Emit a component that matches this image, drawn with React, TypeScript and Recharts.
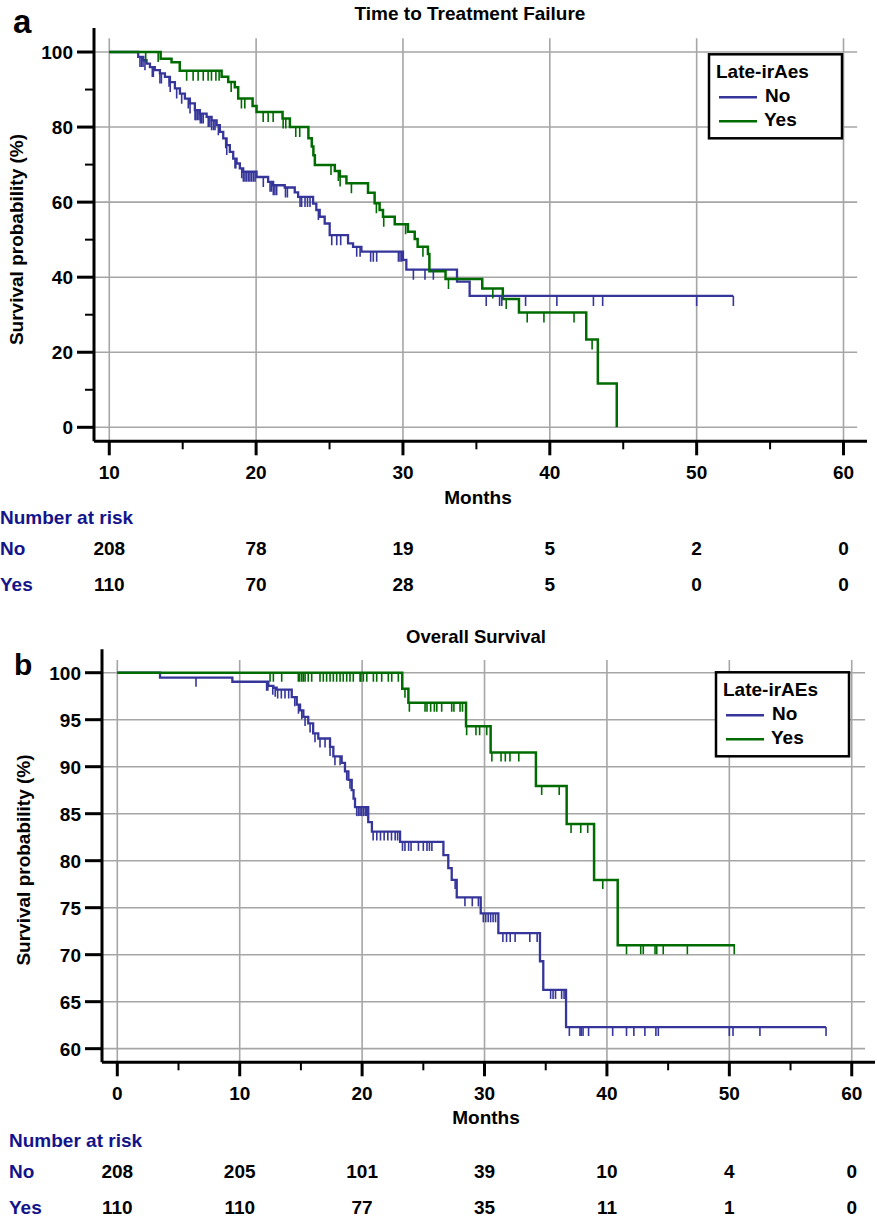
import React from "react";
import { ComposedChart, Line, Scatter, XAxis, YAxis, ReferenceLine } from "recharts";

const FONT = '"Liberation Sans", Arial, Helvetica, sans-serif';
const BLUE = "#35359a";
const GREEN = "#006b00";
const NAVY = "#14148a";
const GRID = "#a6a6a6";

// (a) Time to treatment failure — step times (months) and survival (%)
const ttfNoTime = [10, 11.97, 12.32, 12.54, 12.77, 13.1, 13.45, 13.79, 14.13, 14.47, 14.81, 15.15, 15.49, 15.83, 16.17, 16.63, 16.97, 17.31, 17.53, 17.76, 17.99, 18.21, 18.44, 18.67, 18.89, 19.12, 20.03, 20.82, 21.16, 21.95, 22.63, 22.86, 23.88, 24.1, 24.33, 24.67, 25.01, 26.26, 26.6, 27.17, 30.0, 30.23, 33.68, 34.54, 52.5];
const ttfNoSurv = [100, 98.7, 97.8, 96.9, 96.0, 95.2, 94.3, 93.4, 92.0, 90.3, 88.9, 87.6, 86.3, 84.5, 83.6, 82.7, 81.8, 80.5, 78.7, 77.0, 75.2, 73.4, 71.6, 70.3, 69.0, 68.1, 66.7, 65.4, 64.5, 63.9, 62.6, 61.4, 59.6, 57.9, 56.1, 54.3, 51.2, 49.0, 48.1, 46.8, 44.6, 42.0, 38.8, 35.0, 35.0];
const ttfNoCensor = [12.09, 12.2, 12.3, 12.43, 12.93, 13.0, 13.45, 13.55, 14.07, 14.15, 14.59, 14.93, 15.38, 15.5, 15.84, 15.9, 16.0, 16.11, 16.2, 16.3, 16.4, 16.74, 16.85, 16.97, 17.1, 17.2, 17.43, 17.93, 18.0, 18.56, 18.62, 19.02, 19.13, 19.24, 19.35, 19.47, 19.58, 19.7, 19.82, 19.93, 20.49, 20.95, 21.05, 21.17, 21.28, 21.4, 22.0, 22.13, 22.99, 23.1, 23.33, 23.5, 23.67, 24.24, 25.15, 25.49, 25.76, 26.85, 27.08, 27.8, 27.98, 28.21, 29.69, 29.8, 29.92, 30.71, 31.5, 32.07, 35.67, 36.58, 36.73, 38.35, 40.48, 42.97, 43.6, 50.0, 52.5];

const ttfYesTime = [10, 13.5, 14.24, 14.8, 17.65, 18.1, 18.55, 18.78, 19.76, 20.03, 21.8, 22.3, 23.56, 23.79, 23.9, 24.0, 25.36, 25.7, 26.15, 27.62, 28.07, 28.41, 28.64, 29.44, 30.34, 30.8, 31.0, 31.7, 31.8, 32.9, 35.4, 36.8, 37.9, 42.48, 43.27, 44.56];
const ttfYesSurv = [100, 98.2, 97.3, 95.0, 93.4, 92.0, 90.6, 87.6, 85.6, 84.0, 82.3, 80.0, 77.0, 74.8, 72.5, 69.9, 68.3, 66.8, 65.0, 62.5, 59.7, 57.9, 56.1, 54.1, 52.1, 50.2, 48.1, 46.2, 41.6, 39.5, 37.0, 34.2, 30.6, 23.4, 11.7, 0];
const ttfYesCensor = [12.48, 13.33, 15.27, 15.71, 16.05, 16.4, 16.73, 16.96, 17.26, 17.48, 18.3, 19.0, 19.23, 20.48, 20.82, 21.16, 21.84, 22.02, 22.7, 22.97, 25.1, 25.6, 25.72, 26.49, 28.19, 28.69, 30.18, 31.36, 33.1, 36.12, 37.03, 38.46, 39.6, 41.65, 42.88];

const ttfRiskMonths = [10, 20, 30, 40, 50, 60];
const ttfRiskNo = [208, 78, 19, 5, 2, 0];
const ttfRiskYes = [110, 70, 28, 5, 0, 0];

// (b) Overall survival
const osNoTime = [0, 3.49, 9.4, 12.34, 12.75, 13.02, 14.25, 14.66, 14.93, 15.2, 15.6, 16.0, 16.42, 17.38, 17.65, 18.33, 18.6, 18.88, 19.15, 19.3, 19.42, 20.5, 20.8, 23.1, 26.64, 27.04, 27.32, 27.73, 29.69, 31.13, 34.53, 34.8, 36.66, 57.9];
const osNoSurv = [100, 99.47, 99.04, 98.6, 98.4, 98.2, 97.4, 96.6, 96.0, 95.3, 94.6, 93.55, 93.0, 92.1, 91.1, 90.4, 89.5, 88.6, 87.5, 86.6, 85.7, 84.1, 83.1, 82.0, 80.6, 79.2, 77.95, 76.1, 74.4, 72.3, 69.3, 66.25, 62.3, 62.3];
const osNoCensor = [6.43, 12.2, 12.3, 12.7, 12.9, 13.1, 13.4, 13.7, 14.0, 14.5, 14.8, 15.07, 15.34, 15.75, 16.15, 16.56, 16.97, 17.38, 17.78, 18.2, 18.74, 19.01, 19.56, 19.7, 19.83, 19.95, 20.1, 20.25, 20.38, 20.9, 21.2, 21.5, 21.8, 22.1, 22.4, 22.7, 22.9, 23.3, 23.5, 23.8, 24.0, 24.6, 25.0, 25.3, 25.5, 25.7, 27.6, 28.4, 29.0, 29.5, 29.9, 30.1, 30.3, 30.5, 30.7, 30.9, 31.5, 31.8, 32.1, 32.5, 33.7, 34.3, 35.4, 35.6, 35.8, 36.3, 36.5, 36.93, 37.8, 37.9, 38.05, 38.5, 40.47, 41.6, 42.2, 43.1, 44.0, 44.2, 50.0, 50.3, 52.5, 57.9];

const osYesTime = [0, 23.28, 23.78, 28.49, 30.5, 34.2, 36.71, 38.95, 40.88, 50.47];
const osYesSurv = [100, 98.3, 96.8, 94.3, 91.5, 87.95, 83.9, 77.95, 71.0, 71.0];
const osYesCensor = [12.48, 12.75, 13.43, 14.79, 14.9, 15.07, 15.2, 15.34, 15.6, 15.88, 16.56, 16.83, 17.1, 17.38, 17.65, 17.92, 18.2, 18.46, 18.74, 19.01, 19.28, 19.83, 19.9, 20.1, 20.38, 20.92, 21.19, 21.6, 22.14, 22.42, 22.96, 23.5, 23.86, 25.14, 25.3, 25.6, 25.9, 26.1, 26.5, 27.32, 27.5, 28.0, 28.2, 28.54, 29.3, 29.6, 30.18, 30.6, 31.35, 31.7, 32.08, 32.8, 34.67, 36.1, 37.07, 37.86, 38.43, 39.66, 41.6, 42.76, 42.97, 43.93, 44.07, 44.6, 46.57, 50.4];

const osRiskMonths = [0, 10, 20, 30, 40, 50, 60];
const osRiskNo = [208, 205, 101, 39, 10, 4, 0];
const osRiskYes = [110, 110, 77, 35, 11, 1, 0];

type Pt = { t: number; s: number };

const toSteps = (times: number[], surv: number[]): Pt[] =>
  times.map((t, i) => ({ t, s: surv[i] }));

// survival value of the step curve at time t (for placing censor marks)
const survAt = (steps: Pt[], t: number) => {
  let s = steps[0].s;
  for (const p of steps) if (p.t <= t + 1e-9) s = p.s;
  return s;
};

const range = (a: number, b: number, step: number) => {
  const out: number[] = [];
  for (let v = a; v <= b + 1e-9; v += step) out.push(v);
  return out;
};

interface Cfg {
  top: number;
  height: number;
  margin: { top: number; right: number; bottom: number; left: number };
  xDomain: [number, number];
  yDomain: [number, number];
  xTicks: number[];
  yTicks: number[];
  xMajor: number;
  yMajor: number;
  vGrid: number[];
  vGridTop: number;
  hGrid: number[];
  hGridRight: number;
  censorLen: number;
  no: Pt[];
  yes: Pt[];
  noCensor: number[];
  yesCensor: number[];
}

const W = 877;
const Y_W = 60;
const X_H = 50;

function KMChart({ cfg }: { cfg: Cfg }) {
  const noMarks = cfg.noCensor.map((t) => ({ t, s: survAt(cfg.no, t) }));
  const yesMarks = cfg.yesCensor.map((t) => ({ t, s: survAt(cfg.yes, t) }));

  const xTick = (p: any) => {
    const v = p.payload.value;
    const major = Math.abs(v % cfg.xMajor) < 1e-6;
    return (
      <g>
        <line x1={p.x} y1={p.y} x2={p.x} y2={p.y + (major ? 14 : 8)} stroke="#000" strokeWidth={major ? 3 : 2} />
        {major && (
          <text x={p.x} y={p.y + 38} textAnchor="middle" fontFamily={FONT} fontWeight="bold" fontSize={19} fill="#000">
            {v}
          </text>
        )}
      </g>
    );
  };

  const yTick = (p: any) => {
    const v = p.payload.value;
    const major = Math.abs(v % cfg.yMajor) < 1e-6;
    return (
      <g>
        <line x1={p.x - (major ? 17 : 9)} y1={p.y} x2={p.x} y2={p.y} stroke="#000" strokeWidth={major ? 3 : 2} />
        {major && (
          <text x={p.x - 21} y={p.y + 7} textAnchor="end" fontFamily={FONT} fontWeight="bold" fontSize={19} fill="#000">
            {v}
          </text>
        )}
      </g>
    );
  };

  const censor = (color: string) => (p: any) =>
    <line x1={p.cx} y1={p.cy} x2={p.cx} y2={p.cy + cfg.censorLen} stroke={color} strokeWidth={1.6} />;

  return (
    <div style={{ position: "absolute", left: 0, top: cfg.top }}>
      <ComposedChart width={W} height={cfg.height} margin={cfg.margin}>
        {cfg.vGrid.map((v) => (
          <ReferenceLine
            key={"v" + v}
            segment={[{ x: v, y: cfg.yDomain[0] }, { x: v, y: cfg.vGridTop }]}
            stroke={GRID}
            strokeWidth={1.6}
          />
        ))}
        {cfg.hGrid.map((v) => (
          <ReferenceLine
            key={"h" + v}
            segment={[{ x: cfg.xDomain[0], y: v }, { x: cfg.hGridRight, y: v }]}
            stroke={GRID}
            strokeWidth={1.6}
          />
        ))}
        <XAxis
          dataKey="t"
          type="number"
          domain={cfg.xDomain}
          ticks={cfg.xTicks}
          interval={0}
          allowDataOverflow
          height={X_H}
          axisLine={{ stroke: "#000", strokeWidth: 3 }}
          tickLine={false}
          tickSize={0}
          tickMargin={0}
          tick={xTick}
        />
        <YAxis
          dataKey="s"
          type="number"
          domain={cfg.yDomain}
          ticks={cfg.yTicks}
          interval={0}
          allowDataOverflow
          width={Y_W}
          axisLine={{ stroke: "#000", strokeWidth: 3 }}
          tickLine={false}
          tickSize={0}
          tickMargin={0}
          tick={yTick}
        />
        <Line data={cfg.no} dataKey="s" type="stepAfter" stroke={BLUE} strokeWidth={2.3} dot={false} activeDot={false} isAnimationActive={false} />
        <Line data={cfg.yes} dataKey="s" type="stepAfter" stroke={GREEN} strokeWidth={2.5} dot={false} activeDot={false} isAnimationActive={false} />
        <Scatter data={noMarks} dataKey="s" shape={censor(BLUE)} isAnimationActive={false} />
        <Scatter data={yesMarks} dataKey="s" shape={censor(GREEN)} isAnimationActive={false} />
      </ComposedChart>
    </div>
  );
}

const TOP: Cfg = {
  top: 0,
  height: 520,
  margin: { top: 28, right: 10, bottom: 520 - 441.3 - X_H, left: 94 - Y_W },
  xDomain: [8.96, 61.6],
  yDomain: [-3.73, 106.4],
  xTicks: range(10, 60, 5),
  yTicks: range(0, 100, 10),
  xMajor: 10,
  yMajor: 20,
  vGrid: range(10, 60, 10),
  vGridTop: 103.7,
  hGrid: range(0, 100, 20),
  hGridRight: 60.93,
  censorLen: 10,
  no: toSteps(ttfNoTime, ttfNoSurv),
  yes: toSteps(ttfYesTime, ttfYesSurv),
  noCensor: ttfNoCensor,
  yesCensor: ttfYesCensor,
};

const BOTTOM: Cfg = {
  top: 610,
  height: 520,
  margin: { top: 39.3, right: 2, bottom: 520 - 452.3 - X_H, left: 102 - Y_W },
  xDomain: [-1.25, 61.9],
  yDomain: [58.55, 102.49],
  xTicks: range(0, 60, 5),
  yTicks: range(60, 100, 5),
  xMajor: 10,
  yMajor: 5,
  vGrid: range(0, 60, 10),
  vGridTop: 101.35,
  hGrid: range(60, 100, 5),
  hGridRight: 61.09,
  censorLen: 9,
  no: toSteps(osNoTime, osNoSurv),
  yes: toSteps(osYesTime, osYesSurv),
  noCensor: osNoCensor,
  yesCensor: osYesCensor,
};

// pixel x of a month value on a chart's x axis (for the risk table)
const xPx = (cfg: Cfg, m: number) => {
  const left = cfg.margin.left + Y_W;
  const right = W - cfg.margin.right;
  return left + ((m - cfg.xDomain[0]) / (cfg.xDomain[1] - cfg.xDomain[0])) * (right - left);
};

const bold = { fontFamily: FONT, fontWeight: "bold" as const };

function Legend({ x, y, title }: { x: number; y: number; title: string }) {
  return (
    <g>
      <rect x={x} y={y} width={133} height={84} fill="#fff" stroke="#000" strokeWidth={2.5} />
      <text x={x + 7} y={y + 24} fontSize={19} {...bold}>{title}</text>
      <line x1={x + 10} x2={x + 48} y1={y + 43} y2={y + 43} stroke={BLUE} strokeWidth={2.5} />
      <text x={x + 56} y={y + 48} fontSize={19} {...bold}>No</text>
      <line x1={x + 10} x2={x + 48} y1={y + 67} y2={y + 67} stroke={GREEN} strokeWidth={2.5} />
      <text x={x + 55} y={y + 72} fontSize={19} {...bold}>Yes</text>
    </g>
  );
}

function RiskTable({ cfg, months, no, yes, x0, y0 }: { cfg: Cfg; months: number[]; no: number[]; yes: number[]; x0: number; y0: number }) {
  return (
    <g>
      <text x={x0} y={y0} fontSize={19} fill={NAVY} {...bold}>Number at risk</text>
      <text x={x0} y={y0 + 31} fontSize={19} fill={NAVY} {...bold}>No</text>
      <text x={x0} y={y0 + 67} fontSize={19} fill={NAVY} {...bold}>Yes</text>
      {months.map((m, i) => (
        <g key={m}>
          <text x={xPx(cfg, m)} y={y0 + 31} textAnchor="middle" fontSize={19} {...bold}>{no[i]}</text>
          <text x={xPx(cfg, m)} y={y0 + 67} textAnchor="middle" fontSize={19} {...bold}>{yes[i]}</text>
        </g>
      ))}
    </g>
  );
}

export default function App() {
  return (
    <div style={{ position: "absolute", left: 0, top: 0, width: W, height: 1220, background: "#fff", overflow: "hidden" }}>
      <KMChart cfg={TOP} />
      <KMChart cfg={BOTTOM} />
      <svg width={W} height={1220} style={{ position: "absolute", left: 0, top: 0, pointerEvents: "none" }}>
        {/* panel a */}
        <text x={13} y={33} fontSize={33} {...bold}>a</text>
        <text x={470} y={19.5} textAnchor="middle" fontSize={19} {...bold}>Time to Treatment Failure</text>
        <text transform="translate(23,239.5) rotate(-90)" textAnchor="middle" fontSize={19} {...bold}>Survival probability (%)</text>
        <text x={478} y={504} textAnchor="middle" fontSize={19} {...bold}>Months</text>
        <Legend x={709} y={54.3} title="Late-irAes" />
        <RiskTable cfg={TOP} months={ttfRiskMonths} no={ttfRiskNo} yes={ttfRiskYes} x0={0} y0={524} />

        {/* panel b */}
        <text x={14} y={675} fontSize={30} {...bold}>b</text>
        <text x={476} y={643} textAnchor="middle" fontSize={18.5} {...bold}>Overall Survival</text>
        <text transform="translate(30,860) rotate(-90)" textAnchor="middle" fontSize={19} {...bold}>Survival probability (%)</text>
        <text x={486} y={1124} textAnchor="middle" fontSize={19} {...bold}>Months</text>
        <Legend x={716} y={672.3} title="Late-irAEs" />
        <RiskTable cfg={BOTTOM} months={osRiskMonths} no={osRiskNo} yes={osRiskYes} x0={9} y0={1146.7} />
      </svg>
    </div>
  );
}
